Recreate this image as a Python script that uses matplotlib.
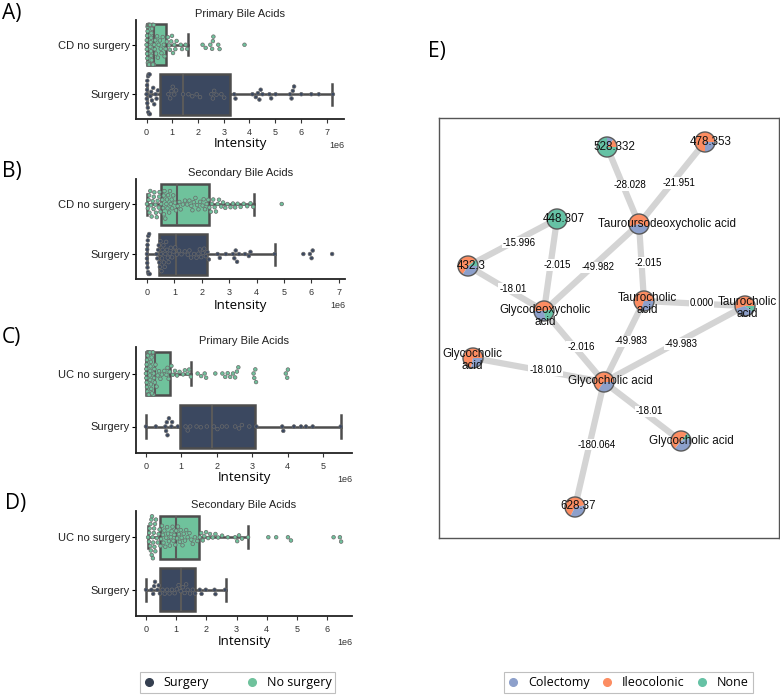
import matplotlib
matplotlib.use("Agg")
import matplotlib.pyplot as plt
from matplotlib.lines import Line2D
from matplotlib.patches import Circle
from matplotlib.ticker import MultipleLocator
import pandas as pd
import seaborn as sns

plt.rcParams["font.family"] = ["Liberation Sans", "DejaVu Sans"]
LABEL_FONT = ["Open Sans", "DejaVu Sans"]

SURG = "#3b4860"
NOSURG = "#6fc29c"
LINE = "#4d4d4d"

# ---- box / swarm data (intensity in units of 1e6) ----
a_cd = [0.00, 0.01, 0.02, 0.02, 0.03, 0.04, 0.04, 0.05, 0.06, 0.07, 0.08, 0.08, 0.09, 0.10,
        0.11, 0.12, 0.12, 0.13, 0.14, 0.15, 0.16, 0.17, 0.18, 0.19, 0.20, 0.21, 0.22, 0.23,
        0.24, 0.26, 0.27, 0.29, 0.30, 0.32, 0.01, 0.05, 0.07, 0.10, 0.14, 0.18, 0.22, 0.25,
        0.28, 0.34, 0.37, 0.41, 0.44, 0.47, 0.52, 0.55, 0.58, 0.63, 0.67, 0.70, 0.74, 0.79,
        0.83, 0.88, 0.91, 0.96, 0.99, 1.03, 1.08, 1.12, 1.17, 1.33, 1.38, 1.52, 1.58, 2.18,
        2.30, 2.48, 2.55, 2.58, 2.60, 2.79, 2.84, 3.81]
a_surg = [0.00, 0.01, 0.02, 0.03, 0.03, 0.05, 0.06, 0.08, 0.10, 0.12, 0.15, 0.18, 0.21, 0.26,
          0.30, 0.35, 0.39, 0.44, 0.02, 0.07, 0.13, 0.85, 0.92, 0.97, 1.02, 1.08, 1.15, 1.42,
          1.63, 1.78, 1.95, 2.08, 2.52, 2.58, 2.63, 2.72, 2.91, 3.02, 3.41, 3.46, 4.12, 4.25,
          4.33, 4.39, 4.44, 4.51, 4.78, 4.85, 5.02, 5.58, 5.64, 5.69, 5.74, 6.02, 6.41, 6.70, 7.25]
b_cd = [0.00, 0.03, 0.06, 0.08, 0.09, 0.12, 0.15, 0.17, 0.21, 0.24, 0.25, 0.27, 0.31, 0.33,
        0.36, 0.39, 0.43, 0.45, 0.46, 0.49, 0.52, 0.56, 0.59, 0.61, 0.62, 0.64, 0.67, 0.71,
        0.73, 0.75, 0.77, 0.81, 0.84, 0.87, 0.90, 0.92, 0.96, 1.02, 1.06, 1.12, 1.18, 1.23,
        1.31, 1.39, 1.47, 1.55, 1.62, 1.66, 1.71, 1.77, 1.83, 1.88, 1.94, 2.03, 2.07, 2.12,
        2.18, 2.24, 2.28, 2.33, 2.37, 2.42, 2.47, 2.52, 2.58, 2.63, 2.71, 2.78, 2.86, 2.94,
        3.05, 3.14, 3.22, 3.31, 3.42, 3.53, 3.66, 3.78, 3.88, 4.92]
b_surg = [0.00, 0.00, 0.01, 0.01, 0.02, 0.02, 0.03, 0.04, 0.05, 0.06, 0.08, 0.10, 0.35, 0.38,
          0.41, 0.43, 0.45, 0.47, 0.49, 0.51, 0.53, 0.55, 0.57, 0.60, 0.62, 0.65, 0.67, 0.70,
          0.73, 0.76, 0.79, 0.83, 0.87, 0.92, 0.97, 1.03, 1.09, 1.17, 1.26, 1.38, 1.49, 1.55,
          1.61, 1.72, 1.81, 1.88, 1.93, 1.98, 2.04, 2.09, 2.15, 2.21, 2.26, 2.58, 2.66, 2.88,
          3.14, 3.19, 3.24, 3.29, 3.36, 3.58, 3.72, 3.78, 4.66, 5.71, 5.95, 6.01, 6.05, 6.76]
c_uc = [0.00, 0.01, 0.01, 0.02, 0.03, 0.03, 0.04, 0.05, 0.06, 0.06, 0.07, 0.08, 0.09, 0.10,
        0.11, 0.12, 0.12, 0.13, 0.14, 0.15, 0.16, 0.17, 0.18, 0.19, 0.20, 0.21, 0.22, 0.23,
        0.24, 0.25, 0.02, 0.05, 0.08, 0.11, 0.14, 0.17, 0.20, 0.27, 0.30, 0.33, 0.37, 0.41,
        0.45, 0.52, 0.58, 0.61, 0.64, 0.67, 0.72, 0.76, 0.82, 0.88, 0.95, 1.05, 1.10, 1.18,
        1.22, 1.27, 1.46, 1.56, 1.66, 1.70, 1.96, 2.16, 2.24, 2.31, 2.38, 2.46, 2.52, 2.57,
        2.61, 3.04, 3.06, 3.09, 3.11, 3.95, 3.99, 4.01]
c_surg = [0.00, 0.28, 0.55, 0.57, 0.59, 0.61, 0.65, 0.72, 0.74, 0.90, 1.12, 1.18, 1.25, 1.43,
          1.55, 1.72, 1.92, 2.02, 2.15, 2.28, 2.52, 2.63, 2.71, 2.92, 3.12, 3.85, 3.88, 4.18,
          4.38, 4.52, 4.71, 5.50]
d_uc = [0.07, 0.10, 0.11, 0.12, 0.14, 0.15, 0.16, 0.18, 0.19, 0.20, 0.22, 0.23, 0.24, 0.26,
        0.27, 0.28, 0.30, 0.31, 0.33, 0.36, 0.39, 0.42, 0.45, 0.48, 0.50, 0.53, 0.56, 0.58,
        0.61, 0.64, 0.67, 0.70, 0.73, 0.76, 0.79, 0.82, 0.85, 0.88, 0.91, 0.94, 0.97, 1.00,
        1.03, 1.06, 1.09, 1.12, 1.15, 1.18, 1.21, 1.25, 1.29, 1.33, 1.38, 1.44, 1.50, 1.55,
        1.62, 1.70, 1.78, 1.83, 1.88, 1.93, 1.99, 2.06, 2.12, 2.21, 2.30, 2.39, 2.52, 2.71,
        2.95, 3.02, 3.08, 3.18, 3.38, 4.05, 4.31, 4.70, 4.80, 6.21, 6.42, 6.46]
d_surg = [0.00, 0.18, 0.24, 0.27, 0.30, 0.38, 0.42, 0.46, 0.55, 0.62, 0.70, 0.78, 0.86, 0.95,
          1.02, 1.08, 1.15, 1.22, 1.28, 1.33, 1.38, 1.46, 1.55, 1.63, 1.78, 1.84, 1.98, 2.27,
          2.30, 2.62]

# box stats: q1, median, q3, whisker low, whisker high
a_cd_box = [0.0, 0.30, 0.77, 0.0, 1.62]
a_surg_box = [0.53, 1.40, 3.25, 0.0, 7.22]
b_cd_box = [0.51, 1.09, 2.28, 0.0, 3.92]
b_surg_box = [0.45, 1.06, 2.20, 0.0, 4.66]
c_uc_box = [0.0, 0.25, 0.67, 0.0, 1.27]
c_surg_box = [0.96, 1.87, 3.08, 0.0, 5.50]
d_uc_box = [0.47, 0.99, 1.75, 0.07, 3.37]
d_surg_box = [0.47, 1.15, 1.63, 0.0, 2.64]

# ---- network data ----
node_names = ["528.332", "478.353", "Tauroursodeoxycholic acid", "448.307", "432.3",
              "Glycodeoxycholic\nacid", "Taurocholic\nacid", "Taurocholic\nacid",
              "Glycocholic\nacid", "Glycocholic acid", "Glycocholic acid", "628.37"]
# layout positions (layout units, y up)
node_x = [168, 266, 200, 118, 29, 105, 205, 306, 34, 165, 242, 136]
node_y = [391, 396, 314, 319, 272, 227, 237, 232, 180, 156, 97, 31]
label_dx = [7, 6, 28, 7, 3, 1, 3, 2, -1, 6, 10, 3]
label_dy = [0, 0, 0, 0, 0, -5, -3, -2, -2, 1, 0, 1]
# fractions per group: colectomy, ileocolonic, none
frac_colectomy = [0.11, 0.25, 0.40, 0.00, 0.34, 0.28, 0.30, 0.35, 0.28, 0.35, 0.40, 0.35]
frac_ileocolonic = [0.14, 0.75, 0.60, 0.00, 0.55, 0.47, 0.70, 0.55, 0.72, 0.65, 0.50, 0.65]
frac_none = [0.75, 0.00, 0.00, 1.00, 0.11, 0.25, 0.00, 0.10, 0.00, 0.00, 0.10, 0.00]
pie_start = [0, 0, -20, 0, 0, 10, 0, 0, 0, 0, 16, 10]

edges_src = [0, 1, 3, 3, 2, 2, 4, 6, 5, 6, 7, 8, 9, 9]
edges_dst = [2, 2, 4, 5, 5, 6, 5, 7, 9, 9, 9, 9, 10, 11]
edge_labels = ["-28.028", "-21.951", "-15.996", "-2.015", "-49.982", "-2.015", "-18.01",
               "0.000", "-2.016", "-49.983", "-49.983", "-18.010", "-18.01", "-180.064"]

group_names = ["Colectomy", "Ileocolonic", "None"]
group_colors = ["#8da0cb", "#fc8d62", "#66c2a5"]

W, H = 780, 696
fig = plt.figure(figsize=(7.8, 6.96), dpi=100)


def px_rect(x0, y0, x1, y1):
    return [x0 / W, 1 - y1 / H, (x1 - x0) / W, (y1 - y0) / H]


def box_stats(s, label):
    return dict(q1=s[0] * 1e6, med=s[1] * 1e6, q3=s[2] * 1e6, whislo=s[3] * 1e6,
                whishi=s[4] * 1e6, fliers=[], label=label)


def draw_panel(rect, title, top_name, top_vals, surg_vals, top_box, surg_box, xlim, labelpad):
    ax = fig.add_axes(px_rect(*rect))
    line_kw = dict(color=LINE, linewidth=1.8)
    bp = ax.bxp([box_stats(top_box, top_name), box_stats(surg_box, "Surgery")],
                positions=[0, 1], widths=0.82, orientation="horizontal", patch_artist=True,
                showfliers=False, capwidths=0.42, boxprops=dict(edgecolor=LINE, linewidth=1.8),
                whiskerprops=line_kw, capprops=line_kw,
                medianprops=dict(color="#5a5a5a", linewidth=1.5), zorder=2)
    for patch, col in zip(bp["boxes"], [NOSURG, SURG]):
        patch.set_facecolor(col)

    df = pd.DataFrame({
        "value": [v * 1e6 for v in top_vals] + [v * 1e6 for v in surg_vals],
        "group": [top_name] * len(top_vals) + ["Surgery"] * len(surg_vals),
    })
    sns.swarmplot(data=df, x="value", y="group", hue="group", order=[top_name, "Surgery"],
                  palette={top_name: NOSURG, "Surgery": SURG}, size=2.6, linewidth=0.5,
                  edgecolor="#6a6a6a", legend=False, ax=ax, zorder=3, warn_thresh=1.0)

    ax.set_xlim(xlim[0] * 1e6, xlim[1] * 1e6)
    ax.xaxis.set_major_locator(MultipleLocator(1e6))
    ax.set_ylim(1.5, -0.5)
    ax.set_yticks([0, 1])
    ax.set_yticklabels([top_name, "Surgery"], fontsize=8, color="#222222")
    ax.set_ylabel("")
    ax.set_xlabel("Intensity", fontsize=9.5, family=LABEL_FONT, labelpad=labelpad)
    ax.set_title(title, fontsize=8, pad=2.5, color="#222222")
    ax.tick_params(axis="x", labelsize=6.5, length=3, width=0.8, colors="#333333")
    ax.tick_params(axis="y", length=3, width=0.8, pad=1.5)
    ax.xaxis.get_offset_text().set_fontsize(6.5)
    ax.xaxis.get_offset_text().set_color("#333333")
    for side in ["top", "right"]:
        ax.spines[side].set_visible(False)
    for side in ["left", "bottom"]:
        ax.spines[side].set_linewidth(1.3)
        ax.spines[side].set_color("#222222")
    return ax


draw_panel((136, 20, 344, 119), "Primary Bile Acids", "CD no surgery", a_cd, a_surg,
           a_cd_box, a_surg_box, (-0.41, 7.68), 0)
draw_panel((136, 179, 345, 279), "Secondary Bile Acids", "CD no surgery", b_cd, b_surg,
           b_cd_box, b_surg_box, (-0.40, 7.23), 1.5)
draw_panel((136, 347, 352, 453), "Primary Bile Acids", "UC no surgery", c_uc, c_surg,
           c_uc_box, c_surg_box, (-0.28, 5.82), 0)
draw_panel((136, 511, 352, 616), "Secondary Bile Acids", "UC no surgery", d_uc, d_surg,
           d_uc_box, d_surg_box, (-0.33, 6.82), 1)

# panel letters
for letter, (px, py) in zip(["A)", "B)", "C)", "D)", "E)"],
                            [(2, 14), (2, 172), (2, 338), (5, 504), (428, 52)]):
    fig.text(px / W, 1 - py / H, letter, fontsize=15, family=LABEL_FONT,
             ha="left", va="center")

# ---- network panel ----
axn = fig.add_axes(px_rect(439, 118, 779, 538))
for s, d, lab in zip(edges_src, edges_dst, edge_labels):
    axn.plot([node_x[s], node_x[d]], [node_y[s], node_y[d]], color="#d4d4d4",
             linewidth=4.5, solid_capstyle="butt", zorder=1)
    axn.text((node_x[s] + node_x[d]) / 2 + 7, (node_y[s] + node_y[d]) / 2, lab,
             fontsize=7, ha="center", va="center", zorder=2,
             bbox=dict(facecolor="white", edgecolor="none", pad=0.6))

for i, name in enumerate(node_names):
    fr = [frac_ileocolonic[i], frac_colectomy[i], frac_none[i]]
    cols = [group_colors[1], group_colors[0], group_colors[2]]
    if i in (4, 10):
        fr = [frac_none[i], frac_ileocolonic[i], frac_colectomy[i]]
        cols = [group_colors[2], group_colors[1], group_colors[0]]
    keep = [(f, c) for f, c in zip(fr, cols) if f > 0]
    wedges, _ = axn.pie([k[0] for k in keep], colors=[k[1] for k in keep],
                        center=(node_x[i], node_y[i]), radius=10, startangle=pie_start[i],
                        frame=True, wedgeprops=dict(linewidth=0, zorder=3))
    for w in wedges:
        w.set_zorder(3)
    axn.add_patch(Circle((node_x[i], node_y[i]), 10, facecolor="none",
                         edgecolor="#5a5a5a", linewidth=1.0, zorder=4))
    axn.text(node_x[i] + label_dx[i], node_y[i] + label_dy[i], name, fontsize=8.4,
             ha="center", va="center", linespacing=0.95, zorder=5, color="#111111")

axn.set_aspect("auto")
axn.set_xlim(0, 340)
axn.set_ylim(0, 420)
axn.set_xticks([])
axn.set_yticks([])
for sp in axn.spines.values():
    sp.set_color("#555555")
    sp.set_linewidth(1.0)

# ---- legends ----
surg_handles = [Line2D([], [], marker="o", linestyle="", markersize=5.5, color=c)
                for c in ["#353f50", NOSURG]]
leg1 = fig.legend(surg_handles, ["Surgery", "No surgery"], loc="center", ncol=2,
                  bbox_to_anchor=(237.5 / W, 1 - 682.5 / H), frameon=True, fancybox=False,
                  edgecolor="#b0b0b0", prop=dict(family=LABEL_FONT, size=9),
                  handlelength=0.8, handletextpad=0.8, columnspacing=3.0, borderpad=0.3)
leg1.get_frame().set_linewidth(0.8)

grp_handles = [Line2D([], [], marker="o", linestyle="", markersize=5.5, color=c)
               for c in group_colors]
leg2 = fig.legend(grp_handles, group_names, loc="center", ncol=3,
                  bbox_to_anchor=(628.5 / W, 1 - 682.5 / H), frameon=True, fancybox=False,
                  edgecolor="#b0b0b0", prop=dict(family=LABEL_FONT, size=9),
                  handlelength=0.8, handletextpad=0.8, columnspacing=1.0, borderpad=0.3)
leg2.get_frame().set_linewidth(0.8)

fig.savefig("out.png", dpi=100)
